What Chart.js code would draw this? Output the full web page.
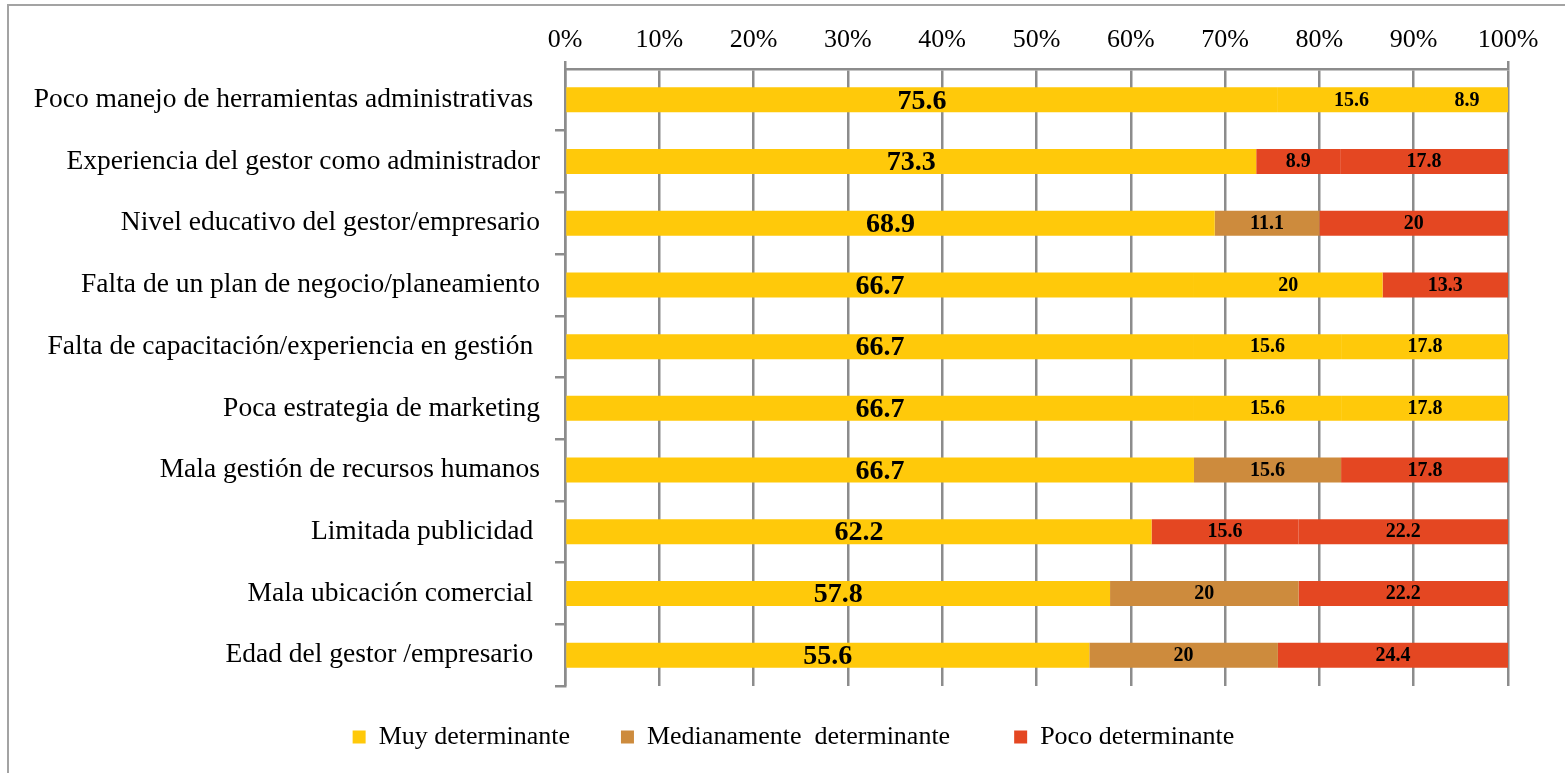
<!DOCTYPE html>
<html>
<head>
<meta charset="utf-8">
<script src="https://cdn.jsdelivr.net/npm/chart.js@4/dist/chart.umd.min.js"></script>
<style>
html,body{margin:0;padding:0;background:#fff;}
#wrap{position:relative;width:1565px;height:773px;overflow:hidden;background:#fff;}
#frame{position:absolute;left:7px;top:4px;width:1600px;height:820px;border-left:2px solid #a3a3a3;border-top:2px solid #a3a3a3;}
#c{position:absolute;left:0;top:0;}
</style>
</head>
<body>
<div id="wrap"><div id="frame"></div><canvas id="c" width="1565" height="773"></canvas></div>
<script>
// ---- data ----
const categories = [
  'Poco manejo de herramientas administrativas ',
  'Experiencia del gestor como administrador',
  'Nivel educativo del gestor/empresario',
  'Falta de un plan de negocio/planeamiento',
  'Falta de capacitación/experiencia en gestión ',
  'Poca estrategia de marketing',
  'Mala gestión de recursos humanos',
  'Limitada publicidad ',
  'Mala ubicación comercial ',
  'Edad del gestor /empresario '
];
const muyDeterminante      = [75.6, 73.3, 68.9, 66.7, 66.7, 66.7, 66.7, 62.2, 57.8, 55.6];
const medianamente         = [15.6,  8.9, 11.1, 20,   15.6, 15.6, 15.6, 15.6, 20,   20  ];
const pocoDeterminante     = [ 8.9, 17.8, 20,   13.3, 17.8, 17.8, 17.8, 22.2, 22.2, 24.4];
const seriesNames = ['Muy determinante', 'Medianamente  determinante', 'Poco determinante'];
const tickLabels = ['0%','10%','20%','30%','40%','50%','60%','70%','80%','90%','100%'];

// ---- styles ----
const YEL = '#FFC90A', BRN = '#CD8B3D', RED = '#E44722', GRID = '#8c8c8c', NONE = 'rgba(0,0,0,0)';
const legendColors = [YEL, BRN, RED];
const muyColors  = [YEL, YEL, YEL, YEL, YEL, YEL, YEL, YEL, YEL, YEL];
const medColors  = [YEL, RED, BRN, YEL, YEL, YEL, BRN, RED, BRN, BRN];
const pocoColors = [YEL, RED, RED, RED, YEL, YEL, RED, RED, RED, RED];
const legendSuffix = ['  ', '    ', ''];

Chart.defaults.color = '#000';
Chart.defaults.font.family = '"Liberation Serif", "Times New Roman", serif';

const valueLabels = {
  id: 'valueLabels',
  afterDatasetsDraw(chart) {
    const ctx = chart.ctx;
    chart.data.datasets.forEach((ds, di) => {
      const meta = chart.getDatasetMeta(di);
      meta.data.forEach((el, i) => {
        const p = el.getProps(['x', 'y', 'base'], true);
        ctx.save();
        ctx.font = (di === 0 ? 'bold 28px' : 'bold 20px') + ' "Liberation Serif", serif';
        ctx.fillStyle = '#000';
        ctx.textAlign = 'center';
        ctx.textBaseline = 'middle';
        ctx.fillText(String(ds.data[i]), (p.x + p.base) / 2, p.y + (di === 0 ? 1.5 : 0.5));
        ctx.restore();
      });
    });
  }
};

const common = { barPercentage: 0.405, categoryPercentage: 1.0, borderWidth: 0 };

new Chart(document.getElementById('c'), {
  type: 'bar',
  data: {
    labels: categories,
    datasets: [
      Object.assign({ label: seriesNames[0], data: muyDeterminante, backgroundColor: muyColors }, common),
      Object.assign({ label: seriesNames[1], data: medianamente, backgroundColor: medColors }, common),
      Object.assign({ label: seriesNames[2], data: pocoDeterminante, backgroundColor: pocoColors }, common)
    ]
  },
  options: {
    indexAxis: 'y',
    responsive: false,
    animation: false,
    layout: { padding: { left: 22, right: 0, top: 0, bottom: 13 } },
    scales: {
      x: {
        position: 'top',
        stacked: true,
        min: 0, max: 100,
        ticks: {
          stepSize: 10,
          padding: 5,
          font: { size: 26 },
          color: '#000',
          maxRotation: 0,
          callback: (v, i) => tickLabels[i]
        },
        grid: {
          color: GRID,
          lineWidth: 2.5,
          drawTicks: true,
          tickLength: 8,
          tickColor: (c) => (c.index === 0 || c.index === 10) ? GRID : NONE
        },
        border: { display: true, color: GRID, width: 2.5 },
        afterFit: (s) => { s.height = 69; }
      },
      y: {
        stacked: true,
        ticks: { font: { size: 27.5 }, color: '#000', padding: 15, autoSkip: false },
        grid: {
          drawOnChartArea: false, drawTicks: true, tickLength: 10, color: GRID, lineWidth: 2.5,
          tickColor: (c) => c.index === 0 ? NONE : GRID
        },
        border: { display: true, color: GRID, width: 2.5 },
        afterFit: (s) => { s.width = 543; }
      },
      yRightSpace: {
        type: 'category',
        position: 'right',
        labels: [''],
        display: true,
        ticks: { display: false },
        grid: { display: false, drawTicks: false },
        border: { display: false },
        afterFit: (s) => { s.width = 57; }
      }
    },
    plugins: {
      tooltip: { enabled: false },
      legend: {
        position: 'bottom',
        labels: {
          boxWidth: 13,
          boxHeight: 13,
          padding: 38,
          font: { size: 26 },
          color: '#000',
          generateLabels: () => seriesNames.map((n, i) => ({
            text: n + legendSuffix[i],
            fillStyle: legendColors[i],
            strokeStyle: legendColors[i],
            lineWidth: 0,
            hidden: false,
            datasetIndex: i
          }))
        }
      }
    }
  },
  plugins: [valueLabels]
});
</script>
</body>
</html>
